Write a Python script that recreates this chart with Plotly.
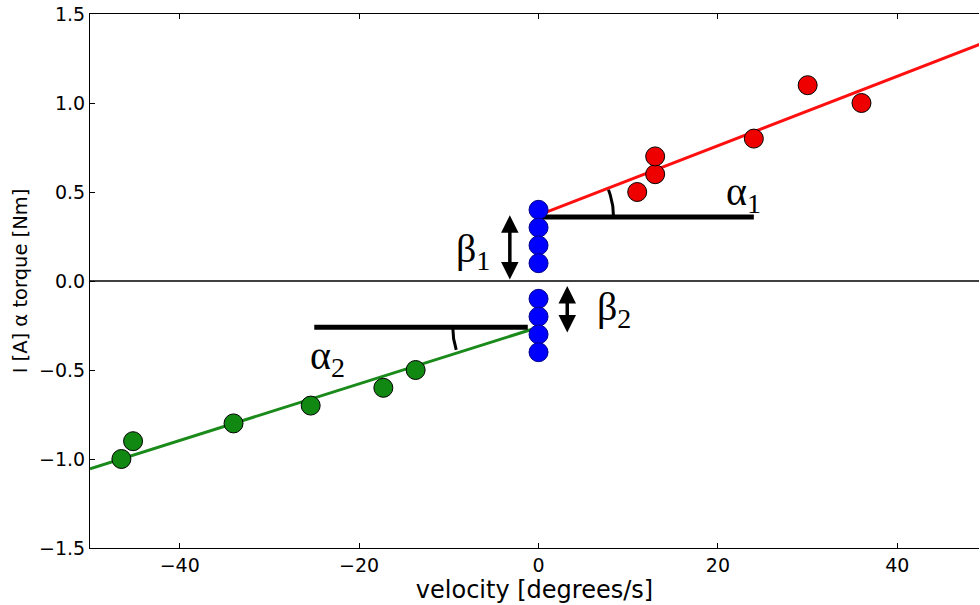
import numpy as np
import plotly.graph_objects as go

# ---- data ----
red_x = [11, 13, 13, 24, 30, 36]
red_y = [0.5, 0.6, 0.7, 0.8, 1.1, 1.0]
green_x = [-46.5, -45.2, -34.0, -25.4, -17.3, -13.7]
green_y = [-1.0, -0.9, -0.8, -0.7, -0.6, -0.5]
blue_x = [0, 0, 0, 0, 0, 0, 0, 0]
blue_y = [0.4, 0.3, 0.2, 0.1, -0.1, -0.2, -0.3, -0.4]

red_fit = {"intercept": 0.37, "slope": 0.0195, "x": [0, 50]}
green_fit = {"intercept": -0.26, "slope": 0.0159, "x": [-50, 0]}

x_ticks = [-40, -20, 0, 20, 40]
y_ticks = [-1.5, -1.0, -0.5, 0.0, 0.5, 1.0, 1.5]

alpha1_line = {"x": [0, 24], "y": 0.36}
alpha2_line = {"x": [-25, -1.2], "y": -0.26}
beta1 = {"x": -3.2, "y": [0.0, 0.37]}
beta2 = {"x": 3.2, "y": [-0.02, -0.29]}

XR = [-50, 49.1]
YR = [-1.5, 1.5]
W, H = 980, 605
ML, MR, MT, MB = 90, 1, 14, 57
pw, ph = W - ML - MR, H - MT - MB
pxx = pw / (XR[1] - XR[0])
pxy = ph / (YR[1] - YR[0])

fig = go.Figure()

# zero line
fig.add_trace(go.Scatter(x=XR, y=[0, 0], mode="lines",
                         line=dict(color="black", width=1.3), hoverinfo="skip"))

# fit lines
for fit, col in [(red_fit, "#ff1010"), (green_fit, "#1a8a1a")]:
    xs = np.array(fit["x"], dtype=float)
    fig.add_trace(go.Scatter(x=xs, y=fit["intercept"] + fit["slope"] * xs,
                             mode="lines", line=dict(color=col, width=3),
                             hoverinfo="skip"))

# angle reference lines
fig.add_trace(go.Scatter(x=alpha1_line["x"], y=[alpha1_line["y"]] * 2, mode="lines",
                         line=dict(color="black", width=5)))
fig.add_trace(go.Scatter(x=alpha2_line["x"], y=[alpha2_line["y"]] * 2, mode="lines",
                         line=dict(color="black", width=5)))

# arcs (computed in pixel space)
def arc(cx, cy, r_px, a0, a1):
    t = np.linspace(a0, a1, 30)
    return cx + r_px * np.cos(t) / pxx, cy + r_px * np.sin(t) / pxy

ang1 = np.arctan(red_fit["slope"] * pxy / pxx)
ax1, ay1 = arc(alpha1_line["x"][0], alpha1_line["y"], 75, 0, ang1)
fig.add_trace(go.Scatter(x=ax1, y=ay1, mode="lines", line=dict(color="black", width=3)))
ang2 = np.arctan(green_fit["slope"] * pxy / pxx)
ax2, ay2 = arc(alpha2_line["x"][1], alpha2_line["y"], 75, np.pi, np.pi + ang2)
fig.add_trace(go.Scatter(x=ax2, y=ay2, mode="lines", line=dict(color="black", width=3)))

# points
mk = dict(size=19, line=dict(color="black", width=1))
fig.add_trace(go.Scatter(x=red_x, y=red_y, mode="markers", marker=dict(color="#ee0000", **mk)))
fig.add_trace(go.Scatter(x=green_x, y=green_y, mode="markers", marker=dict(color="#118811", **mk)))
fig.add_trace(go.Scatter(x=blue_x, y=blue_y, mode="markers",
                         marker=dict(color="#0000ff", size=19, line=dict(color="#000088", width=1))))

# double arrows
for b in (beta1, beta2):
    fig.add_annotation(x=b["x"], y=b["y"][1], ax=b["x"], ay=b["y"][0],
                       xref="x", yref="y", axref="x", ayref="y", text="",
                       showarrow=True, arrowhead=2, startarrowhead=2,
                       arrowside="end+start", arrowsize=1.0, startarrowsize=1.0,
                       arrowwidth=3.5, arrowcolor="black")

greek = dict(family="Times New Roman, Liberation Serif, serif", size=40, color="black")
labels = [("α<sub>1</sub>", 22.9, 0.49), ("α<sub>2</sub>", -23.5, -0.43),
          ("β<sub>1</sub>", -7.3, 0.17), ("β<sub>2</sub>", 8.4, -0.16)]
for txt, x, y in labels:
    fig.add_annotation(x=x, y=y, xref="x", yref="y", text=txt, showarrow=False,
                       font=greek, xanchor="center", yanchor="middle")

axfont = dict(family="DejaVu Sans, sans-serif", size=19, color="black")
fig.update_layout(
    width=W, height=H, showlegend=False,
    margin=dict(l=ML, r=MR, t=MT, b=MB),
    paper_bgcolor="white", plot_bgcolor="white",
    xaxis=dict(range=XR, tickvals=x_ticks, ticks="inside", ticklen=5, tickcolor="black",
               showline=True, linecolor="black", linewidth=1, mirror="allticks",
               showgrid=False, zeroline=False, tickfont=axfont,
               title=dict(text="velocity [degrees/s]", standoff=1,
                          font=dict(family="DejaVu Sans, sans-serif", size=24, color="black"))),
    yaxis=dict(range=YR, tickvals=y_ticks, tickformat=".1f", ticks="inside", ticklen=5,
               tickcolor="black", showline=True, linecolor="black", linewidth=1, mirror=False,
               showgrid=False, zeroline=False, tickfont=axfont,
               title=dict(text="I [A] α torque [Nm]", standoff=6,
                          font=dict(family="DejaVu Sans, sans-serif", size=19.5, color="black"))),
)

fig.write_html("out.html")
